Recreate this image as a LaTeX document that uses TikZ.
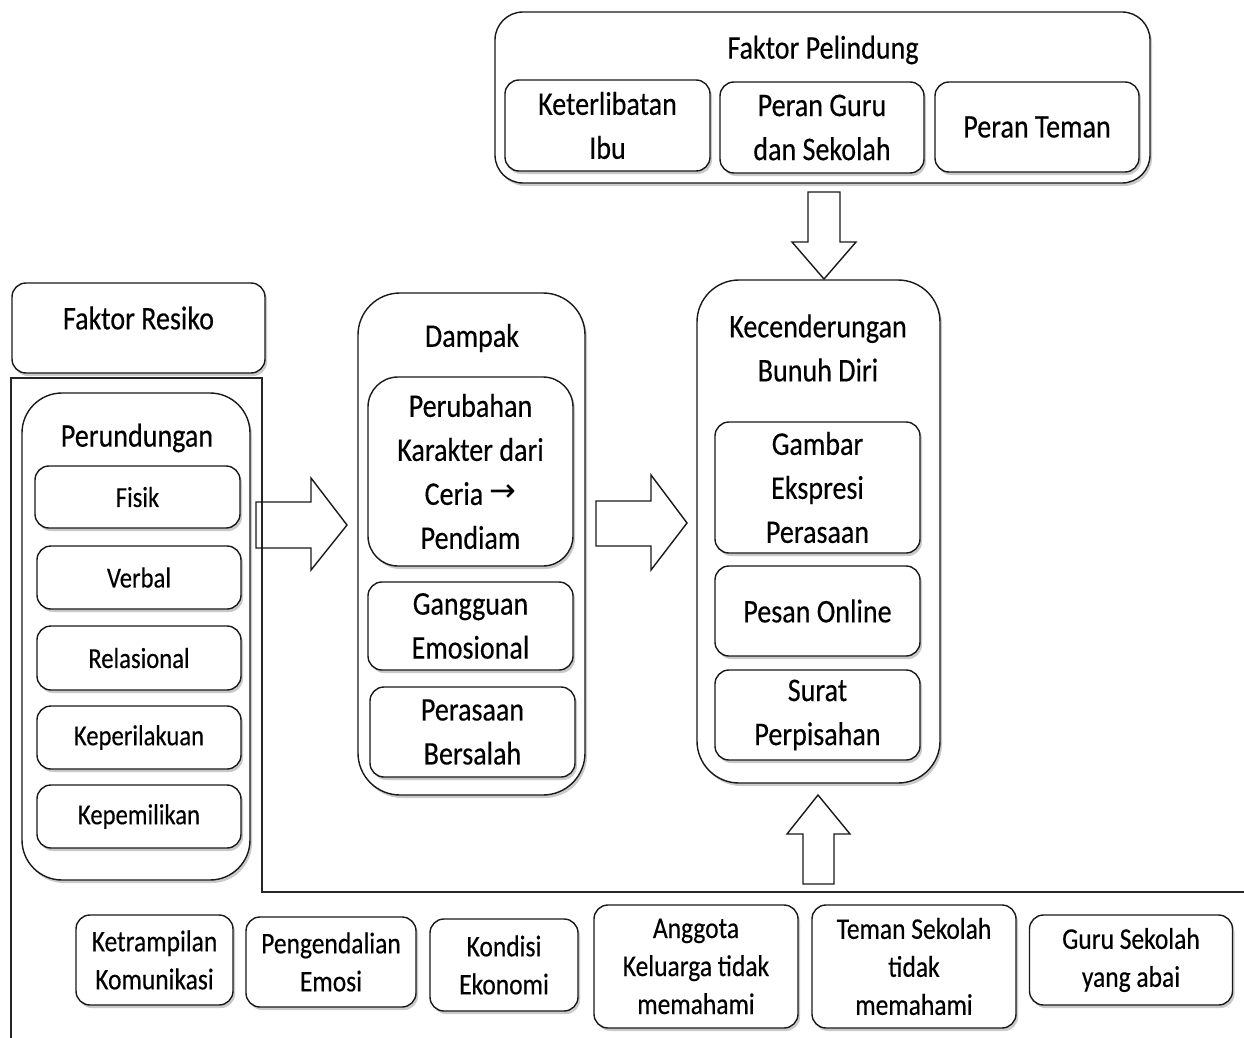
\documentclass[tikz,border=0pt]{standalone}
\usepackage{fontspec}
\setmainfont{Carlito}[FakeStretch=0.85, FakeBold=0.3]
\newfontfamily\symfont{DejaVu Sans}
\usetikzlibrary{shadows}
\newcommand\fbig{\fontsize{33}{44}\selectfont}
\newcommand\fmid{\fontsize{30}{38}\selectfont}
\newcommand\fsml{\fontsize{29}{36}\selectfont}
\tikzset{
  lw/.style={line width=1.4pt, draw=black!90},
  box/.style={lw, fill=white, rounded corners=14pt, align=center, inner sep=0pt,
    drop shadow={shadow xshift=2pt, shadow yshift=-3pt, fill=black!60, opacity=0.35}},
  bigbox/.style={box, rounded corners=42pt},
  txt/.style={align=center, inner sep=0pt},
  blockarrow/.style={lw, line join=miter},
  frame/.style={line width=1.3pt, draw=black!85},
}
\begin{document}
\begin{tikzpicture}[x=1pt, y=-1pt]
\useasboundingbox (0,0) rectangle (1244,1038);
% L-shaped frame
\draw[frame] (11,1040) -- (11,378) -- (262,378) -- (262,892) -- (1246,892);

% Faktor Pelindung
\node[box, rounded corners=28pt, minimum width=655pt, minimum height=171pt] (fp) at (822.5,97.5) {};
\node[txt, font=\fbig] (fpt) at (823,50) {Faktor Pelindung};
\node[box, font=\fbig, minimum width=205pt, minimum height=91pt] (ki) at (607.5,125.5) {Keterlibatan\\Ibu};
\node[box, font=\fbig, minimum width=204pt, minimum height=91pt] (pg) at (822,127.5) {Peran Guru\\dan Sekolah};
\node[box, font=\fbig, minimum width=204pt, minimum height=90pt] (pt) at (1037,127) {Peran Teman};

% Faktor Resiko
\node[box, minimum width=253pt, minimum height=90pt] (fr) at (138.5,328) {};
\node[txt, font=\fbig] (frt) at (138.5,318) {Faktor Resiko};

% Perundungan
\node[box, rounded corners=40pt, minimum width=228pt, minimum height=487pt] (pr) at (136,636.5) {};
\node[txt, font=\fbig] (prt) at (137,438) {Perundungan};
\node[box, font=\fsml, minimum width=205pt, minimum height=62pt] (p1) at (137.5,497) {Fisik};
\node[box, font=\fsml, minimum width=204pt, minimum height=63pt] (p2) at (139,577.5) {Verbal};
\node[box, font=\fsml, minimum width=204pt, minimum height=64pt] (p3) at (139,658) {Relasional};
\node[box, font=\fsml, minimum width=204pt, minimum height=63pt] (p4) at (139,737.5) {Keperilakuan};
\node[box, font=\fsml, minimum width=204pt, minimum height=63pt] (p5) at (139,816.5) {Kepemilikan};

% Dampak
\node[bigbox, minimum width=227pt, minimum height=502pt] (dp) at (471.5,544) {};
\node[txt, font=\fbig] (dpt) at (472,338) {Dampak};
\node[box, rounded corners=30pt, font=\fbig, minimum width=205pt, minimum height=189pt] (d1) at (470.5,471.5)
  {Perubahan\\Karakter dari\\Ceria {\symfont\fontsize{32}{32}\selectfont\raisebox{3pt}{→}}\\Pendiam};
\node[box, font=\fbig, minimum width=205pt, minimum height=88pt] (d2) at (470.5,626) {Gangguan\\Emosional};
\node[box, font=\fbig, minimum width=205pt, minimum height=90pt] (d3) at (472.5,732) {Perasaan\\Bersalah};

% Kecenderungan Bunuh Diri
\node[bigbox, minimum width=243pt, minimum height=503pt] (kb) at (818.5,531.5) {};
\node[txt, font=\fbig] (kbt) at (818,348) {Kecenderungan\\Bunuh Diri};
\node[box, font=\fbig, minimum width=205pt, minimum height=131pt] (k1) at (817.5,487.5) {Gambar\\Ekspresi\\Perasaan};
\node[box, font=\fbig, minimum width=205pt, minimum height=90pt] (k2) at (817.5,611) {Pesan Online};
\node[box, font=\fbig, minimum width=205pt, minimum height=90pt] (k3) at (817.5,715) {Surat\\Perpisahan};

% bottom row
\node[box, font=\fmid, minimum width=157pt, minimum height=90pt] (b1) at (154.5,960) {Ketrampilan\\Komunikasi};
\node[box, font=\fmid, minimum width=170pt, minimum height=90pt] (b2) at (331,962) {Pengendalian\\Emosi};
\node[box, font=\fmid, minimum width=148pt, minimum height=92pt] (b3) at (504,965) {Kondisi\\Ekonomi};
\node[box, font=\fmid, minimum width=204pt, minimum height=123pt] (b4) at (696,966.5) {Anggota\\Keluarga tidak\\memahami};
\node[box, font=\fmid, minimum width=204pt, minimum height=123pt] (b5) at (914,966.5) {Teman Sekolah\\tidak\\memahami};
\node[box, font=\fmid, minimum width=203pt, minimum height=90pt] (b6) at (1131,960) {Guru Sekolah\\yang abai};

% block arrows
\draw[blockarrow] (256,502) -- (311,502) -- (311,478) -- (347,525) -- (311,570) -- (311,548) -- (256,548) -- cycle;
\draw[blockarrow] (596,501) -- (651,501) -- (651,475) -- (687,523) -- (651,570) -- (651,546) -- (596,546) -- cycle;
\draw[blockarrow] (808,192) -- (840,192) -- (840,242) -- (856,242) -- (824,279) -- (792,242) -- (808,242) -- cycle;
\draw[blockarrow] (803,884) -- (834,884) -- (834,834) -- (850,834) -- (818,795) -- (787,834) -- (803,834) -- cycle;
\end{tikzpicture}
\end{document}
